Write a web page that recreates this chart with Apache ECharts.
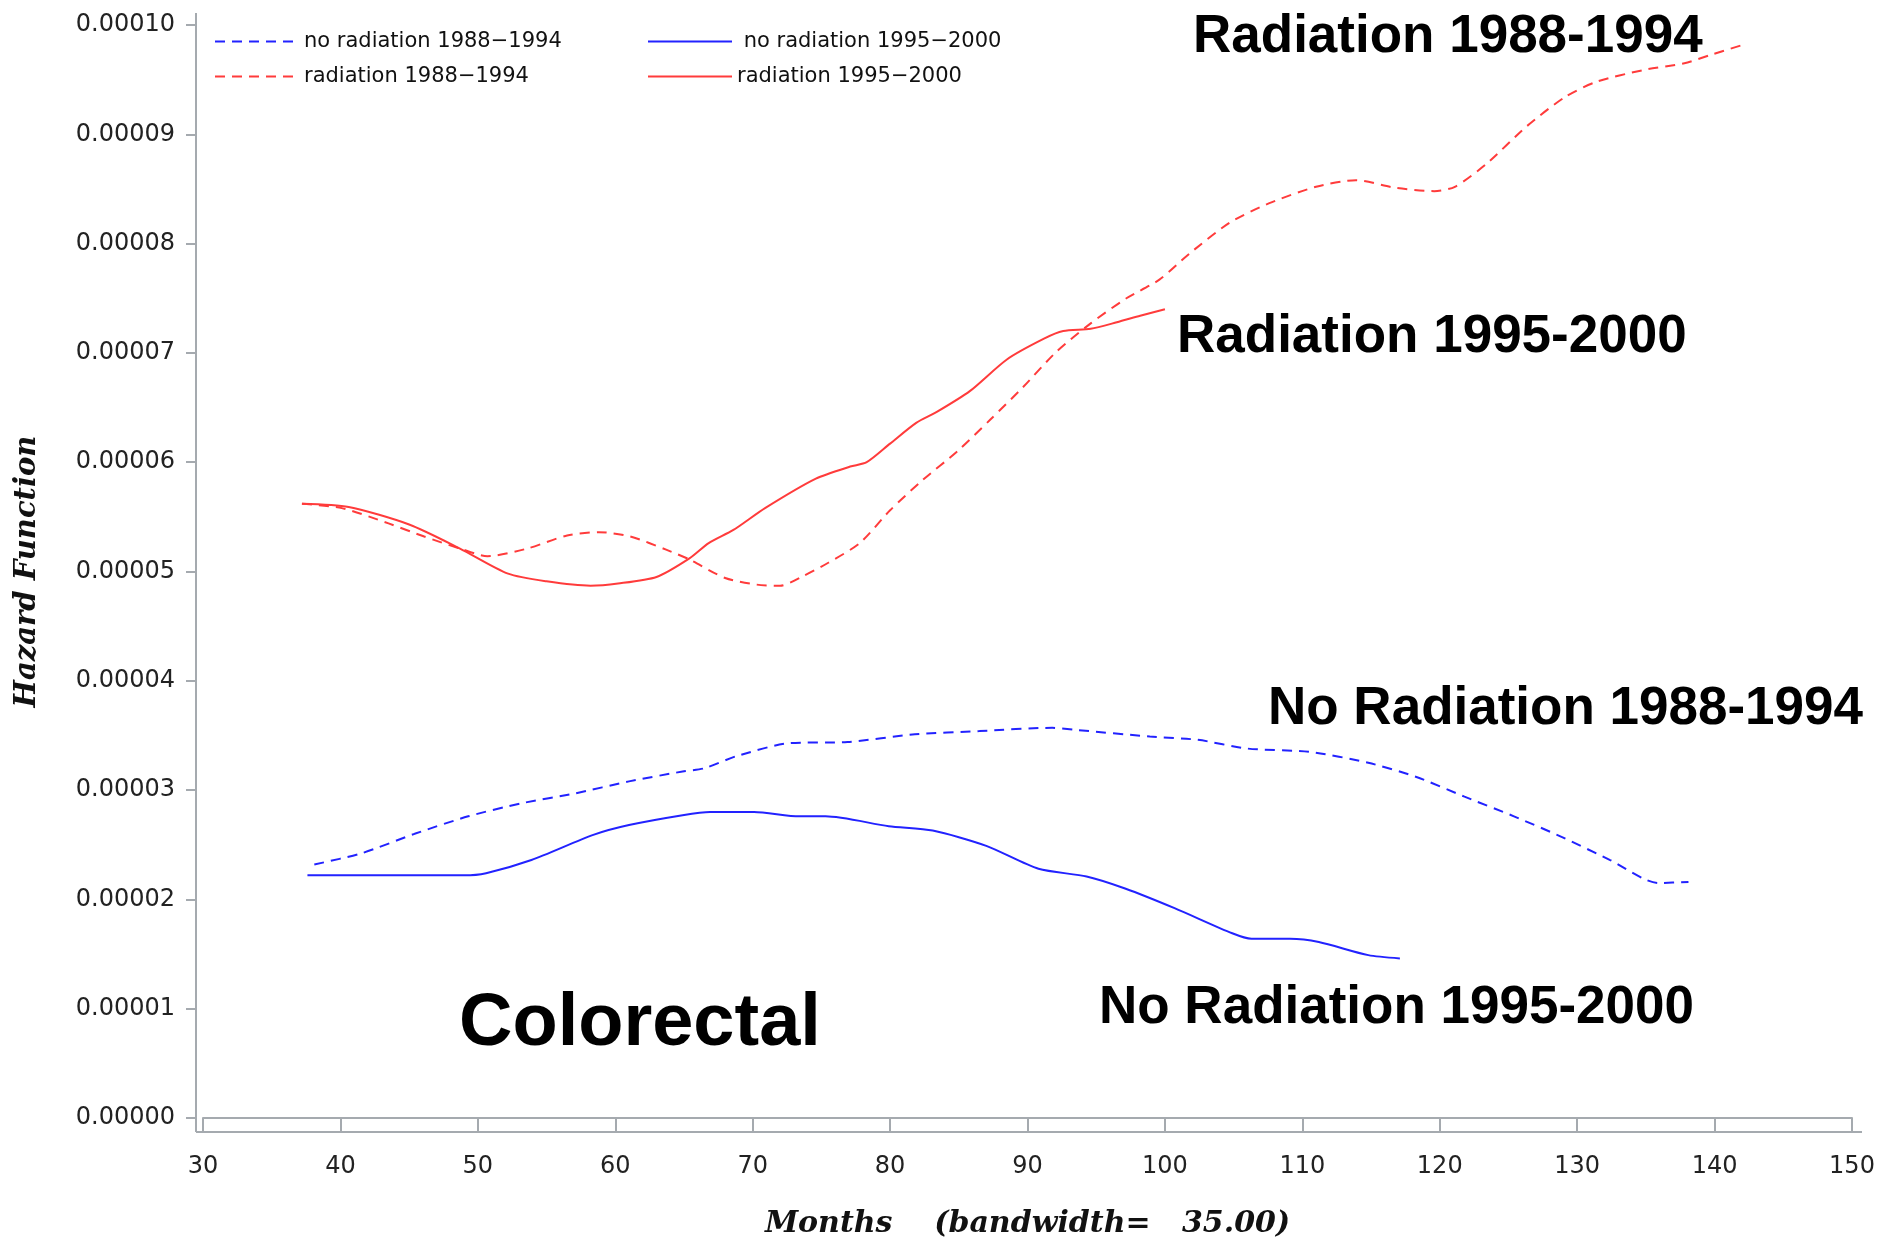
<!DOCTYPE html>
<html><head><meta charset="utf-8">
<script src="https://cdn.jsdelivr.net/npm/echarts@6/dist/echarts.min.js"></script>
<style>html,body{margin:0;padding:0;background:#fff}#c{width:1880px;height:1241px}</style>
</head><body><div id="c"></div>
<script>
// ---- data (months, hazard) ----
const xTicks = [30, 40, 50, 60, 70, 80, 90, 100, 110, 120, 130, 140, 150];
const yTicks = [0, 0.00001, 0.00002, 0.00003, 0.00004, 0.00005, 0.00006, 0.00007, 0.00008, 0.00009, 0.0001];

const seriesNames = ['no radiation 1988\u22121994', 'radiation 1988\u22121994', 'no radiation 1995\u22122000', 'radiation 1995\u22122000'];

const radOldMonths = [37.2, 40.1, 43.5, 46.1, 48.7, 50.7, 53.6, 56.5, 58.8, 61.1, 63.7, 65.4, 68.0, 70.3, 72.0, 73.7, 75.5, 77.8, 80.0, 82.4, 84.9, 87.3, 89.7, 92.1, 94.6, 97.2, 99.6, 101.8, 104.7, 107.6, 111.0, 113.9, 116.8, 119.6, 121.1, 123.4, 126.3, 129.1, 131.4, 134.9, 137.8, 139.8, 142.1];
const radOldHazard = [5.62e-5, 5.58e-5, 5.44e-5, 5.32e-5, 5.21e-5, 5.14e-5, 5.21e-5, 5.33e-5, 5.36e-5, 5.32e-5, 5.20e-5, 5.11e-5, 4.94e-5, 4.88e-5, 4.87e-5, 4.96e-5, 5.08e-5, 5.26e-5, 5.56e-5, 5.84e-5, 6.10e-5, 6.39e-5, 6.69e-5, 7.01e-5, 7.27e-5, 7.50e-5, 7.67e-5, 7.91e-5, 8.19e-5, 8.37e-5, 8.52e-5, 8.58e-5, 8.51e-5, 8.48e-5, 8.52e-5, 8.73e-5, 9.07e-5, 9.34e-5, 9.48e-5, 9.59e-5, 9.65e-5, 9.73e-5, 9.82e-5];

const radNewMonths = [37.2, 40.6, 45.0, 48.7, 52.2, 55.0, 58.2, 60.2, 63.0, 65.4, 66.8, 68.6, 70.9, 74.6, 77.1, 78.3, 80.0, 81.9, 83.4, 85.8, 88.5, 91.2, 92.6, 94.6, 96.5, 98.2, 100.0];
const radNewHazard = [5.62e-5, 5.59e-5, 5.43e-5, 5.21e-5, 4.98e-5, 4.91e-5, 4.87e-5, 4.89e-5, 4.95e-5, 5.12e-5, 5.26e-5, 5.38e-5, 5.58e-5, 5.85e-5, 5.96e-5, 6.00e-5, 6.17e-5, 6.36e-5, 6.46e-5, 6.65e-5, 6.94e-5, 7.13e-5, 7.20e-5, 7.22e-5, 7.28e-5, 7.34e-5, 7.40e-5];

const noRadOldMonths = [38.1, 41.5, 45.4, 49.3, 53.2, 57.1, 61.0, 64.9, 66.5, 68.8, 72.7, 76.9, 81.8, 86.5, 91.8, 93.6, 98.9, 102.4, 106.0, 110.5, 114.8, 118.3, 121.8, 125.4, 128.9, 132.4, 135.9, 138.1];
const noRadOldHazard = [2.32e-5, 2.42e-5, 2.60e-5, 2.76e-5, 2.88e-5, 2.97e-5, 3.08e-5, 3.17e-5, 3.20e-5, 3.31e-5, 3.43e-5, 3.44e-5, 3.51e-5, 3.54e-5, 3.57e-5, 3.55e-5, 3.49e-5, 3.46e-5, 3.38e-5, 3.35e-5, 3.25e-5, 3.12e-5, 2.94e-5, 2.76e-5, 2.57e-5, 2.36e-5, 2.15e-5, 2.16e-5];

const noRadNewMonths = [37.6, 49.0, 50.6, 53.9, 58.4, 61.0, 64.9, 66.9, 70.1, 73.4, 75.3, 79.9, 83.1, 87.0, 90.8, 94.3, 97.1, 100.7, 104.9, 106.3, 109.1, 111.2, 114.8, 117.1];
const noRadNewHazard = [2.22e-5, 2.22e-5, 2.24e-5, 2.36e-5, 2.59e-5, 2.68e-5, 2.77e-5, 2.80e-5, 2.80e-5, 2.76e-5, 2.76e-5, 2.67e-5, 2.63e-5, 2.49e-5, 2.28e-5, 2.21e-5, 2.10e-5, 1.92e-5, 1.69e-5, 1.64e-5, 1.64e-5, 1.61e-5, 1.49e-5, 1.46e-5];

const annotations = ['Radiation 1988-1994', 'Radiation 1995-2000', 'No Radiation 1988-1994', 'No Radiation 1995-2000', 'Colorectal'];

// ---- chart ----
const BLUE = '#2222ff', RED = '#ff3b3b', AXIS = '#a5aaaf';
const pair = (xs, ys) => xs.map((x, i) => [x, ys[i]]);
const dash = [10, 7];

const chart = echarts.init(document.getElementById('c'), null, {renderer: 'canvas'});
const annFont = 'bold 53px "Liberation Sans", Arial, sans-serif';
const legendText = {fontFamily: 'DejaVu Sans', fontSize: 21, color: '#111', padding: [8, 0, 0, 0]};
const legendBase = {orient: 'vertical', top: 31, padding: 0, itemWidth: 84, itemHeight: 14, itemGap: 14,
  textStyle: legendText, selectedMode: false, itemStyle: {opacity: 0, borderWidth: 0}};

chart.setOption({
  animation: false,
  backgroundColor: '#fff',
  grid: {left: 203, right: 28, top: 25, bottom: 123, containLabel: false, outerBoundsMode: 'none'},
  xAxis: {
    type: 'value', min: xTicks[0], max: xTicks[xTicks.length - 1], interval: xTicks[1] - xTicks[0],
    offset: 14,
    axisLine: {show: true, lineStyle: {color: AXIS, width: 2}},
    axisTick: {show: true, length: 13, lineStyle: {color: AXIS, width: 2}},
    axisLabel: {margin: 23, fontFamily: 'DejaVu Sans', fontSize: 24, color: '#222'},
    splitLine: {show: false},
    name: 'Months    (bandwidth=   35.00)',
    nameLocation: 'middle', nameGap: 77,
    nameTextStyle: {fontFamily: 'DejaVu Serif', fontStyle: 'italic', fontWeight: 'bold', fontSize: 30, color: '#111'}
  },
  yAxis: {
    type: 'value', min: yTicks[0], max: yTicks[yTicks.length - 1], interval: yTicks[1] - yTicks[0],
    offset: 7,
    axisLine: {show: true, lineStyle: {color: AXIS, width: 2}},
    axisTick: {show: true, length: 10, lineStyle: {color: AXIS, width: 2}},
    axisLabel: {margin: 21, fontFamily: 'DejaVu Sans', fontSize: 24, color: '#222', formatter: v => v.toFixed(5)},
    splitLine: {show: false},
    name: 'Hazard Function',
    nameLocation: 'middle', nameGap: 154, nameRotate: 90,
    nameTextStyle: {fontFamily: 'DejaVu Serif', fontStyle: 'italic', fontWeight: 'bold', fontSize: 29, color: '#111'}
  },
  legend: [
    Object.assign({}, legendBase, {data: [seriesNames[0], seriesNames[1]], left: 214}),
    Object.assign({}, legendBase, {data: [seriesNames[2], seriesNames[3]], left: 647,
      formatter: n => n.indexOf('no') === 0 ? ' ' + n : n})
  ],
  series: [
    {name: seriesNames[0], type: 'line', data: pair(noRadOldMonths, noRadOldHazard), symbol: 'none', smooth: 0.25, lineStyle: {color: BLUE, width: 2, type: dash}, itemStyle: {color: BLUE}},
    {name: seriesNames[1], type: 'line', data: pair(radOldMonths, radOldHazard), symbol: 'none', smooth: 0.25, lineStyle: {color: RED, width: 2, type: dash}, itemStyle: {color: RED}},
    {name: seriesNames[2], type: 'line', data: pair(noRadNewMonths, noRadNewHazard), symbol: 'none', smooth: 0.25, lineStyle: {color: BLUE, width: 2}, itemStyle: {color: BLUE}},
    {name: seriesNames[3], type: 'line', data: pair(radNewMonths, radNewHazard), symbol: 'none', smooth: 0.25, lineStyle: {color: RED, width: 2}, itemStyle: {color: RED}}
  ],
  graphic: [
    {type: 'line', shape: {x1: 196, y1: 13, x2: 196, y2: 1132}, style: {stroke: AXIS, lineWidth: 2}, silent: true},
    {type: 'line', shape: {x1: 196, y1: 1132, x2: 1862, y2: 1132}, style: {stroke: AXIS, lineWidth: 2}, silent: true},
    {type: 'text', x: 1193, y: 37, style: {text: annotations[0], font: annFont, fill: '#000', textAlign: 'left', textVerticalAlign: 'middle', align: 'left', verticalAlign: 'middle'}},
    {type: 'text', x: 1177, y: 337, style: {text: annotations[1], font: annFont, fill: '#000', textAlign: 'left', textVerticalAlign: 'middle', align: 'left', verticalAlign: 'middle'}},
    {type: 'text', x: 1268, y: 709, style: {text: annotations[2], font: annFont, fill: '#000', textAlign: 'left', textVerticalAlign: 'middle', align: 'left', verticalAlign: 'middle'}},
    {type: 'text', x: 1099, y: 1008, style: {text: annotations[3], font: annFont, fill: '#000', textAlign: 'left', textVerticalAlign: 'middle', align: 'left', verticalAlign: 'middle'}},
    {type: 'text', x: 459, y: 1025, style: {text: annotations[4], font: 'bold 74px "Liberation Sans", Arial, sans-serif', fill: '#000', textAlign: 'left', textVerticalAlign: 'middle', align: 'left', verticalAlign: 'middle'}}
  ]
});
</script></body></html>
